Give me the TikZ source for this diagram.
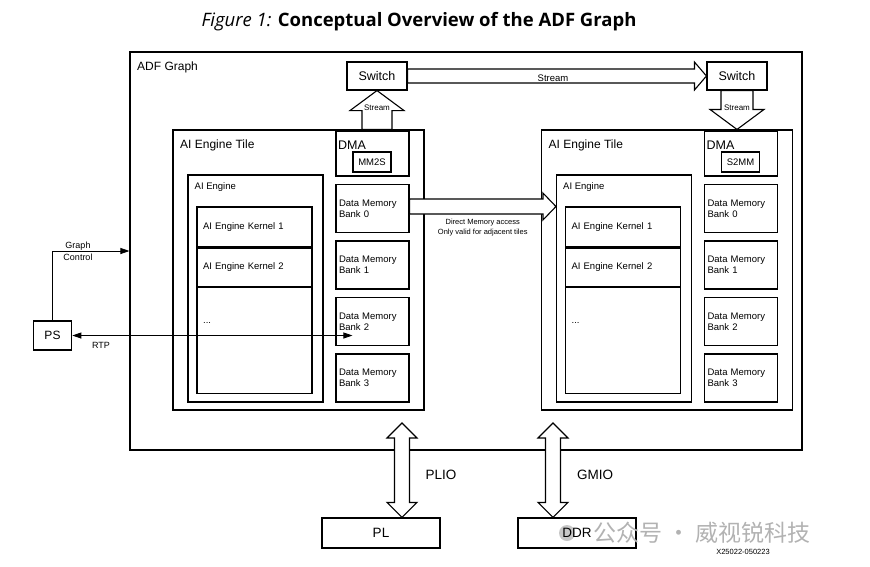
\documentclass[tikz,border=0pt]{standalone}
\usepackage{fontspec}
\setmainfont{Liberation Sans}
\newfontfamily\titlefont{Open Sans}
\newfontfamily\cjkfont{Noto Sans CJK SC}
\usetikzlibrary{arrows.meta,calc,positioning}

\tikzset{
  box/.style={draw, line width=1.1pt, inner sep=0pt},
  lbl/.style={inner sep=0pt, anchor=west},
  bank/.style={box, minimum height=48pt, text width=67pt, inner sep=3pt, align=left, font=\fontsize{9.5}{11}\selectfont},
  kernel/.style={box, minimum width=115pt, text width=103pt, inner sep=6pt, align=left, font=\fontsize{9.5}{11}\selectfont},
  blockline/.style={draw, fill=white, line width=1.1pt, line join=miter},
  thinline/.style={line width=0.8pt},
  tip/.style={-{Triangle[length=9pt,width=6pt]}},
  bothtips/.style={{Triangle[length=9pt,width=6pt]}-{Triangle[length=9pt,width=6pt]}},
}

% block arrow: from, to, shaft half width, head half width, head length
\newcommand{\blockarrow}[5]{%
  \path ($(#2)!#5!(#1)$) coordinate (ahb);
  \draw[blockline] ($(#1)!#3!90:(#2)$) -- ($(ahb)!#3!90:(#2)$) -- ($(ahb)!#4!90:(#2)$) -- (#2)
    -- ($(ahb)!#4!-90:(#2)$) -- ($(ahb)!#3!-90:(#2)$) -- ($(#1)!#3!-90:(#2)$) -- cycle;
}
% block arrow with two heads
\newcommand{\dblockarrow}[5]{%
  \path ($(#1)!#5!(#2)$) coordinate (aha) ($(#2)!#5!(#1)$) coordinate (ahb);
  \draw[blockline] (#1) -- ($(aha)!#4!90:(#2)$) -- ($(aha)!#3!90:(#2)$) -- ($(ahb)!#3!90:(#2)$)
    -- ($(ahb)!#4!90:(#2)$) -- (#2) -- ($(ahb)!#4!-90:(#2)$) -- ($(ahb)!#3!-90:(#2)$)
    -- ($(aha)!#3!-90:(#2)$) -- ($(aha)!#4!-90:(#2)$) -- cycle;
}

\begin{document}
\begin{tikzpicture}[x=1pt,y=-1pt]
\useasboundingbox (0,0) rectangle (870,566);

% Title
\node[font=\titlefont\fontsize{18.5}{21}\selectfont] (title) at (419,21.7)
  {\textit{Figure 1:} \textbf{Conceptual Overview of the ADF Graph}};

% ADF graph frame
\node[box, minimum width=672pt, minimum height=398pt] (adf) at (466,251) {};
\node[lbl, font=\fontsize{12}{14}\selectfont] (adf-label) at (137,67) {ADF Graph};

% Switches
\node[box, minimum width=60pt, minimum height=28pt, font=\fontsize{12.5}{14}\selectfont] (sw1) at (377,76) {Switch};
\node[box, minimum width=60pt, minimum height=28pt, font=\fontsize{12.5}{14}\selectfont] (sw2) at (737,76) {Switch};

% Tiles
\foreach \t/\dx/\dmamode in {1/0/MM2S, 2/368.5/S2MM}{
  \begin{scope}[xshift=\dx]
    \node[box, minimum width=251pt, minimum height=280pt] (t\t) at (298.5,270) {};
    \node[lbl, font=\fontsize{12}{14}\selectfont] (t\t-label) at (180,145) {AI Engine Tile};
    % DMA
    \node[box, minimum width=73pt, minimum height=45pt] (t\t-dma) at (372.5,153.5) {};
    \node[lbl, font=\fontsize{12.5}{14}\selectfont] (t\t-dmalabel) at (338,145) {DMA};
    \node[box, minimum width=38pt, minimum height=20pt, font=\fontsize{9.5}{11}\selectfont] (t\t-mode) at (372,162) {\dmamode};
    % memory banks
    \foreach \b in {0,...,3}
      \node[bank] (t\t-b\b) at (372.5,208.5+56.5*\b) {Data Memory\\Bank \b};
    % AI Engine with kernels
    \node[box, minimum width=135pt, minimum height=227pt] (t\t-ae) at (255.5,288.5) {};
    \node[lbl, font=\fontsize{9.5}{11}\selectfont] (t\t-aelabel) at (194.5,187) {AI Engine};
    \node[kernel, minimum height=40pt] (t\t-k1) at (254.5,227) {AI Engine Kernel 1};
    \node[kernel, minimum height=38pt, below=0pt of t\t-k1] (t\t-k2) {AI Engine Kernel 2};
    \node[box, minimum width=115pt, minimum height=106pt, below=0pt of t\t-k2] (t\t-kn) {};
    \node[lbl, font=\fontsize{9.5}{11}\selectfont] (t\t-dots) at (203,323) {...};
  \end{scope}
}

% Stream between switches
\blockarrow{sw1.east}{sw2.west}{7pt}{14pt}{12pt}
\node[font=\fontsize{9.5}{11}\selectfont] (s-label) at ($(sw1.east)!0.5!(sw2.west)+(-4,2)$) {Stream};

% Stream from tile 1 up to switch
\coordinate (up-base) at (sw1.south |- t1.north);
\blockarrow{up-base}{sw1.south}{15pt}{27pt}{20pt}
\node[font=\fontsize{8}{9}\selectfont] (up-label) at ($(sw1.south)+(0,17)$) {Stream};

% Stream from switch down to tile 2
\coordinate (dn-tip) at (sw2.south |- t2.north);
\blockarrow{sw2.south}{dn-tip}{16pt}{27pt}{20pt}
\node[font=\fontsize{8}{9}\selectfont] (dn-label) at ($(sw2.south)+(0,17)$) {Stream};

% Direct memory access
\coordinate (dm-tip) at ($(t1-b0.east -| t2-ae.west)+(0,-2)$);
\coordinate (dm-base) at ($(t1-b0.east)+(0,-2)$);
\blockarrow{dm-base}{dm-tip}{7.5pt}{13.5pt}{13pt}
\node[font=\fontsize{7.5}{10}\selectfont, align=center] (dm-label) at ($(dm-base)!0.5!(dm-tip)+(0,21.5)$)
  {Direct Memory access\\Only valid for adjacent tiles};

% PS with graph control and RTP
\node[box, minimum width=38.5pt, minimum height=29pt, font=\fontsize{12}{14}\selectfont] (ps) at (52.5,335.5) {PS};
\coordinate (gc-end) at (adf.west |- 0,251);
\draw[thinline, tip] (ps.north) |- (gc-end);
\node[font=\fontsize{9}{12}\selectfont, align=center] (gc-label) at (78,251.7) {Graph\\Control};
\coordinate (rtp-end) at ($(ps.east -| t1-b2.west)+(17,0)$);
\draw[thinline, bothtips] (ps.east) -- (rtp-end);
\node[font=\fontsize{9}{11}\selectfont] (rtp-label) at (101,345.5) {RTP};

% watermark icon (behind the DDR label)
\fill[black!22] (567,533) circle (8pt);

% PL and DDR with PLIO and GMIO
\node[box, minimum width=118pt, minimum height=30pt, font=\fontsize{13.5}{15}\selectfont] (pl) at (381,533) {PL};
\node[box, minimum width=118pt, minimum height=30pt, font=\fontsize{13.5}{15}\selectfont] (ddr) at (577,533) {DDR};
\coordinate (plio-top) at (402,423);
\coordinate (plio-bot) at (plio-top |- pl.north);
\dblockarrow{plio-top}{plio-bot}{7.5pt}{15pt}{15pt}
\node[font=\fontsize{13.5}{15}\selectfont] (plio-label) at (441,475) {PLIO};
\coordinate (gmio-top) at (553,423);
\coordinate (gmio-bot) at (gmio-top |- ddr.north);
\dblockarrow{gmio-top}{gmio-bot}{7.5pt}{15pt}{15pt}
\node[font=\fontsize{13.5}{15}\selectfont] (gmio-label) at (595,475) {GMIO};

% watermark text
\node[font=\cjkfont\fontsize{23}{24}\selectfont, text=black!30] (wm) at (702,533) {公众号 · 威视锐科技};
\node[font=\fontsize{7.5}{9}\selectfont] (fig-id) at (743,551.5) {X25022-050223};

\end{tikzpicture}
\end{document}
